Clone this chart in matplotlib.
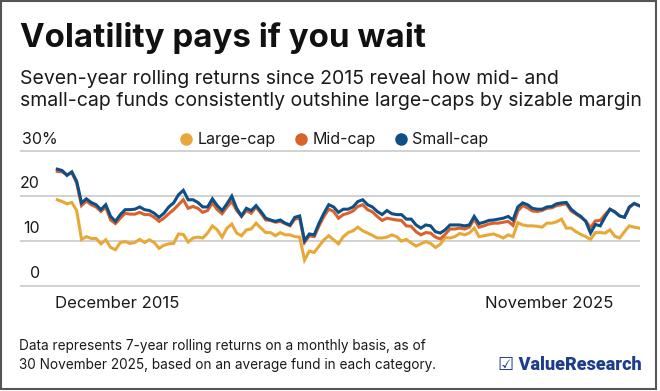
import matplotlib
matplotlib.use("Agg")
import matplotlib.pyplot as plt
from matplotlib.lines import Line2D
from matplotlib.patches import Rectangle
from matplotlib.transforms import ScaledTranslation

plt.rcParams['font.family'] = ['Inter', 'DejaVu Sans']

# Seven-year rolling returns (%), monthly, Dec 2015 .. Nov 2025
large_cap = [
    19.1, 18.7, 18.2, 18.5, 16.7, 10.3, 10.9, 10.5, 10.5, 9.3,
    10.2, 8.5, 8.0, 9.6, 9.8, 9.4, 9.6, 10.3, 9.6, 10.2,
    9.6, 8.3, 9.0, 9.3, 9.4, 11.5, 11.4, 9.7, 10.6, 10.8,
    10.6, 11.7, 13.3, 12.4, 10.8, 12.8, 13.7, 11.7, 11.1, 12.4,
    12.6, 13.9, 12.8, 11.8, 11.8, 11.1, 11.8, 11.3, 11.3, 10.9,
    10.8, 5.7, 7.7, 7.4, 8.8, 10.2,
    11.1, 10.2, 9.3, 10.9, 11.8, 12.2, 13.0, 12.2, 11.7, 11.2,
    10.6, 10.6, 10.8, 11.3, 10.9, 9.9, 10.3, 9.5, 8.8, 9.3,
    9.8, 9.4, 8.5, 9.2, 10.7, 10.6, 10.9, 11.6, 11.3, 11.7,
    12.8, 10.9, 11.1, 11.3, 11.5, 11.1, 10.6, 11.3, 10.9, 14.0,
    13.5, 13.3, 13.3, 13.2, 13.0, 13.9, 13.9, 14.2, 14.8, 12.8,
    12.8, 12.0, 11.4, 10.9, 10.3, 11.8, 11.8, 11.7, 12.4, 11.0,
    10.6, 12.0, 13.3, 13.0, 12.8,
]
mid_cap = [
    25.4, 25.3, 24.7, 25.1, 22.8, 17.8, 18.8, 18.0, 17.5, 16.5,
    17.5, 14.6, 13.8, 15.0, 16.1, 15.9, 15.9, 16.3, 15.8, 15.8,
    15.2, 14.3, 15.0, 16.0, 16.9, 18.0, 19.1, 17.2, 17.6, 17.2,
    16.3, 16.7, 18.4, 16.9, 16.0, 17.5, 18.7, 16.7, 15.4, 16.7,
    16.1, 17.5, 16.1, 14.6, 14.5, 14.1, 14.3, 13.8, 13.3, 14.8,
    15.0, 9.6, 11.1, 10.9, 13.3, 15.4,
    17.0, 16.5, 15.0, 15.8, 16.1, 16.6, 17.6, 18.0, 16.9, 16.4,
    15.4, 14.5, 15.0, 14.8, 14.6, 14.5, 13.3, 13.2, 12.0, 11.3,
    11.8, 11.7, 10.8, 10.4, 11.4, 12.6, 12.6, 12.8, 12.6, 13.0,
    14.8, 13.0, 13.3, 13.7, 13.9, 13.9, 14.1, 14.3, 13.4, 16.6,
    17.8, 17.3, 16.6, 16.5, 16.7, 17.2, 17.3, 17.8, 18.0, 18.2,
    16.6, 15.9, 15.2, 14.4, 12.9, 14.4, 14.5, 15.8, 17.0, 16.4,
    15.5, 15.2, 17.4, 18.2, 17.8,
]
small_cap = [
    25.9, 25.6, 24.5, 25.3, 23.2, 18.4, 19.3, 18.5, 18.0, 16.9,
    18.0, 15.4, 14.3, 15.8, 16.9, 16.9, 17.0, 17.5, 16.9, 16.7,
    16.1, 15.2, 16.1, 17.5, 18.4, 20.2, 21.2, 19.1, 19.1, 18.5,
    17.5, 17.5, 19.3, 17.8, 16.7, 18.2, 19.9, 17.2, 15.5, 17.2,
    16.7, 17.8, 16.5, 15.0, 14.6, 14.3, 14.6, 13.9, 13.5, 15.2,
    15.5, 10.0, 11.5, 11.3, 13.9, 16.1,
    18.0, 17.5, 16.3, 17.0, 17.0, 17.5, 18.7, 19.1, 18.0, 17.5,
    16.5, 15.8, 16.7, 16.0, 15.8, 15.8, 14.8, 14.8, 13.5, 12.8,
    13.5, 13.3, 12.0, 11.7, 12.4, 13.5, 13.5, 13.5, 13.3, 13.5,
    15.4, 13.8, 14.1, 14.5, 14.6, 14.8, 15.0, 15.4, 14.6, 17.5,
    18.4, 18.0, 17.2, 17.0, 17.0, 17.5, 17.6, 18.2, 18.4, 18.5,
    17.0, 16.1, 15.4, 14.3, 11.7, 13.6, 13.3, 15.3, 17.0, 16.4,
    15.5, 15.2, 17.5, 18.3, 17.8,
]
series_names = ["Large-cap", "Mid-cap", "Small-cap"]
series_colors = ["#E8A838", "#D9622B", "#0E4F88"]
date_labels = ["December 2015", "November 2025"]
y_ticks = [0, 10, 20, 30]
y_tick_labels = ["0", "10", "20", "30%"]

W, H = 660, 391
fig = plt.figure(figsize=(W / 100, H / 100), dpi=100)

def fx(px):
    return px / W

def fy(py):
    return 1 - py / H

# axes: x from 20px to 640px, y from -1 to 31
ax = fig.add_axes([fx(20), fy(290.2), fx(620), (290.2 - 146.2) / H])
months = list(range(len(small_cap)))
for vals, name, col in zip([large_cap, mid_cap, small_cap], series_names, series_colors):
    ax.plot(months, vals, color=col, lw=2.2, solid_joinstyle='miter', label=name)

ax.set_xlim(-7.69, len(months) - 1 + 0.2)
ax.set_ylim(-1, 31)
ax.set_yticks(y_ticks)
ax.yaxis.grid(True, color='#c9c9c9', lw=1.2)
ax.set_axisbelow(True)
ax.tick_params(axis='y', length=0, labelleft=False)
for s in ax.spines.values():
    s.set_visible(False)

# y tick labels sit above gridlines, numbers right-aligned
for v, lab in zip(y_ticks, y_tick_labels):
    if lab.endswith('%'):
        ax.annotate(lab, xy=(22, v), xycoords=('figure pixels', 'data'),
                    xytext=(0, 2.5), textcoords='offset points',
                    ha='left', va='bottom', fontsize=11.5, color='#1a1a1a')
    else:
        ax.annotate(lab, xy=(40, v), xycoords=('figure pixels', 'data'),
                    xytext=(0, 3.5), textcoords='offset points',
                    ha='right', va='bottom', fontsize=11.5, color='#1a1a1a')

# first/last date labels
ax.set_xticks([months[0], months[-1]])
ax.set_xticklabels(date_labels, fontsize=12, color='#1a1a1a')
ax.tick_params(axis='x', length=0, pad=4)
xl = ax.get_xticklabels()
xl[0].set_ha('left')
xl[0].set_transform(xl[0].get_transform() + ScaledTranslation(-2 / 100, 0, fig.dpi_scale_trans))
xl[1].set_ha('right')
xl[1].set_transform(xl[1].get_transform() + ScaledTranslation(-26 / 100, 0, fig.dpi_scale_trans))

# legend
handles = [Line2D([], [], ls='none', marker='o', ms=8, color=c, label=n)
           for n, c in zip(series_names, series_colors)]
fig.legend(handles=handles, loc='center', bbox_to_anchor=(fx(335), fy(140)), ncol=3,
           frameon=False, fontsize=11.5, handlelength=0.6, handletextpad=0.4,
           columnspacing=1.3, borderpad=0, labelcolor='#1a1a1a')

# titles
fig.text(fx(20), fy(47), "Volatility pays if you wait", fontsize=23.8, weight='bold',
         color='#111111', va='baseline')
fig.text(fx(20), fy(84), "Seven-year rolling returns since 2015 reveal how mid- and",
         fontsize=14, color='#1a1a1a', va='baseline')
fig.text(fx(20), fy(106), "small-cap funds consistently outshine large-caps by sizable margin",
         fontsize=14, color='#1a1a1a', va='baseline')

# footnote and logo
fig.text(fx(19), fy(350), "Data represents 7-year rolling returns on a monthly basis, as of",
         fontsize=9.8, color='#1a1a1a', va='baseline')
fig.text(fx(19), fy(369), "30 November 2025, based on an average fund in each category.",
         fontsize=9.8, color='#1a1a1a', va='baseline')
fig.text(fx(642), fy(370), "\u2611 ValueResearch", fontsize=13, weight='heavy',
         family=['Roboto', 'DejaVu Sans'], color='#1d3c8c', ha='right', va='baseline')

# outer frame
fig.patches.append(Rectangle((fx(0.8), fy(389)), fx(655), (388 / H), transform=fig.transFigure,
                             fill=False, edgecolor='#555555', lw=1.5))

fig.savefig("out.png", dpi=100)
